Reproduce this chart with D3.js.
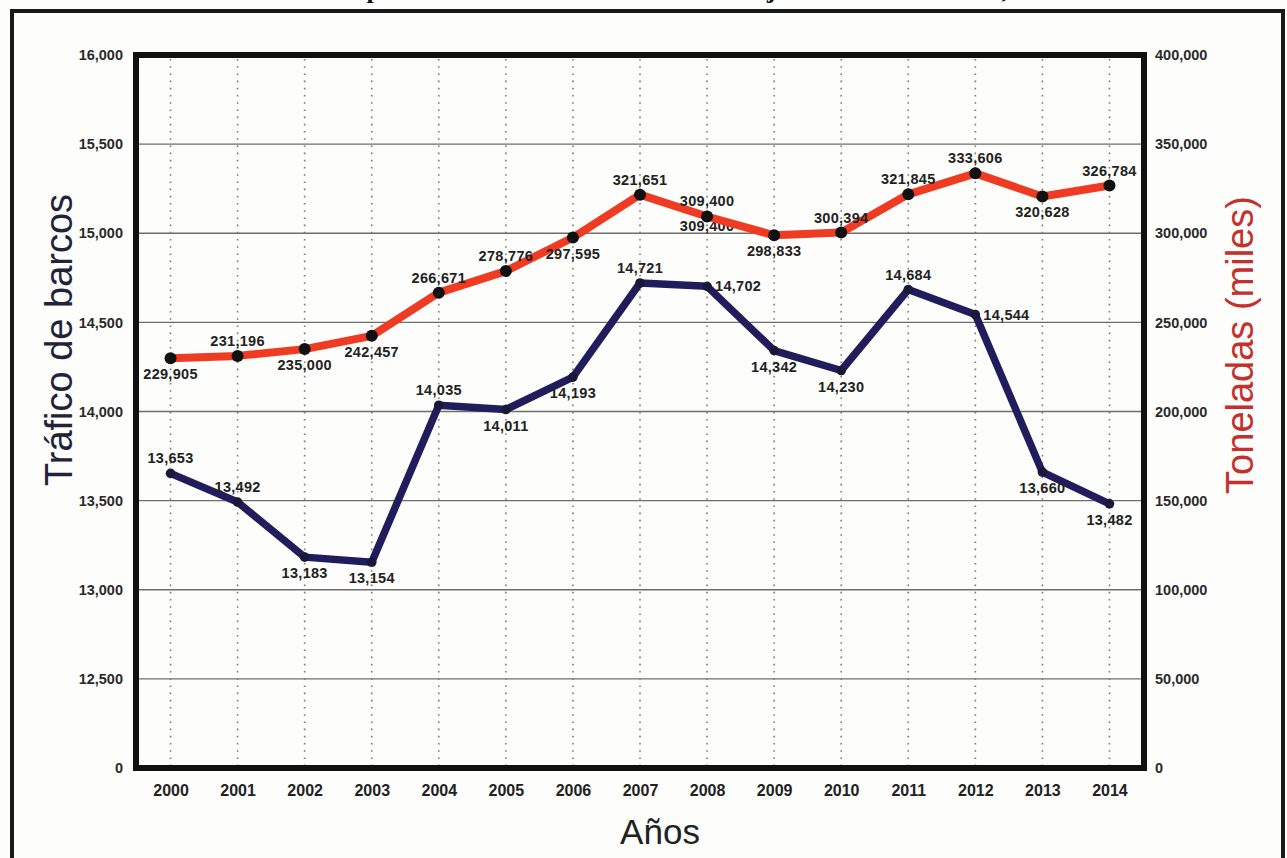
<!DOCTYPE html>
<html>
<head>
<meta charset="utf-8">
<script src="https://cdn.jsdelivr.net/npm/d3@7/dist/d3.min.js"></script>
<style>
  html, body { margin: 0; padding: 0; background: #fdfdfb; }
  svg { display: block; }
</style>
</head>
<body>
<svg id="chart" width="1287" height="858"></svg>
<script>
// Years on the horizontal axis
const years = ["2000","2001","2002","2003","2004","2005","2006","2007","2008","2009","2010","2011","2012","2013","2014"];
// Ship traffic (left axis)
const barcos = [13653, 13492, 13183, 13154, 14035, 14011, 14193, 14721, 14702, 14342, 14230, 14684, 14544, 13660, 13482];
// Tonnage in thousands (right axis)
const toneladas = [229905, 231196, 235000, 242457, 266671, 278776, 297595, 321651, 309400, 298833, 300394, 321845, 333606, 320628, 326784];
// Where each value label sits relative to its point
const barcosLabelPos = ["above","above","below","below","above","below","below","above","right","below","below","above","right","below","below"];
const toneladasLabelPos = ["below","above","below","below","above","above","below","above","above","below","above","above","above","below","above"];
// A second copy of the 2008 tonnage label, sitting under the line
const toneladasLabelExtra = [{ year: "2008", value: 309400, pos: "below" }];
// Left axis ticks (the bottom tick reads 0 on a broken axis)
const leftTicks = [12000, 12500, 13000, 13500, 14000, 14500, 15000, 15500, 16000];
const leftTickLabels = ["0","12,500","13,000","13,500","14,000","14,500","15,000","15,500","16,000"];
// Right axis ticks
const rightTicks = [0, 50000, 100000, 150000, 200000, 250000, 300000, 350000, 400000];
const rightTickLabels = ["0","50,000","100,000","150,000","200,000","250,000","300,000","350,000","400,000"];

const svg = d3.select("#chart");
const L = 137, R = 1143, T = 55, B = 768;
const SANS = "Liberation Sans, Arial, sans-serif";

const x = d3.scalePoint().domain(years).range([L, R]).padding(0.5);
const yL = d3.scaleLinear().domain([12000, 16000]).range([B, T]);
const yR = d3.scaleLinear().domain([0, 400000]).range([B, T]);

// Title (runs off the top edge of the page)
svg.append("text")
  .attr("x", 240).attr("y", -2)
  .attr("font-family", "Liberation Serif, serif")
  .attr("font-weight", "bold")
  .attr("font-size", 26)
  .attr("fill", "#111")
  .text("Tráfico del puerto de Altamira: barcos en manejo anual de toneladas, 2000-2014");

// Outer frame
svg.append("rect")
  .attr("x", 12).attr("y", 11).attr("width", 1271).attr("height", 900)
  .attr("fill", "none").attr("stroke", "#1a1a1a").attr("stroke-width", 4);

// Horizontal gridlines
svg.append("g").selectAll("line")
  .data(leftTicks.slice(1, -1))
  .join("line")
  .attr("x1", L).attr("x2", R)
  .attr("y1", d => yL(d)).attr("y2", d => yL(d))
  .attr("stroke", "#6e6e6e").attr("stroke-width", 1.3);

// Dotted vertical lines at each year
svg.append("g").selectAll("line")
  .data(years)
  .join("line")
  .attr("x1", d => x(d)).attr("x2", d => x(d))
  .attr("y1", T + 4).attr("y2", B)
  .attr("stroke", "#7a7a7a").attr("stroke-width", 1.6)
  .attr("stroke-dasharray", "1.6,5.6");

// Left axis
const leftAxis = d3.axisLeft(yL).tickValues(leftTicks).tickSize(0).tickPadding(14)
  .tickFormat((d, i) => leftTickLabels[i]);
const gL = svg.append("g").attr("transform", `translate(${L},0)`).call(leftAxis);
gL.select(".domain").remove();
gL.selectAll("text").attr("font-family", SANS)
  .attr("font-weight", "bold").attr("font-size", 14.5).attr("fill", "#2a2a2a");

// Right axis
const rightAxis = d3.axisRight(yR).tickValues(rightTicks).tickSize(0).tickPadding(12)
  .tickFormat((d, i) => rightTickLabels[i]);
const gR = svg.append("g").attr("transform", `translate(${R},0)`).call(rightAxis);
gR.select(".domain").remove();
gR.selectAll("text").attr("font-family", SANS)
  .attr("font-weight", "bold").attr("font-size", 14.5).attr("fill", "#2a2a2a");

// Bottom axis (years)
const bottomAxis = d3.axisBottom(x).tickSize(0).tickPadding(17);
const gB = svg.append("g").attr("transform", `translate(0,${B})`).call(bottomAxis);
gB.select(".domain").remove();
gB.selectAll("text").attr("font-family", SANS)
  .attr("font-weight", "bold").attr("font-size", 16).attr("fill", "#222");

// Plot frame
svg.append("rect")
  .attr("x", L - 1).attr("y", T).attr("width", R - L + 2).attr("height", B - T)
  .attr("fill", "none").attr("stroke", "#111").attr("stroke-width", 6);

// Value labels
const fmt = d3.format(",");
function labelX(year, pos) { return x(year) + (pos === "right" ? 8 : 0); }
function labelY(v, pos, scale) {
  return scale(v) + (pos === "above" ? -10 : pos === "below" ? 21 : 5);
}
function styleLabel(sel) {
  sel.attr("font-family", SANS).attr("font-weight", "bold")
    .attr("font-size", 14.5).attr("letter-spacing", 0.3).attr("fill", "#222");
}

// Duplicate 2008 label, partly hidden under the tonnage line
svg.append("g").selectAll("text").data(toneladasLabelExtra).join("text")
  .attr("x", d => labelX(d.year, d.pos)).attr("y", d => labelY(d.value, d.pos, yR) - 6)
  .attr("text-anchor", "middle")
  .call(styleLabel)
  .text(d => fmt(d.value));

// Ship traffic line
const lineB = d3.line().x((d, i) => x(years[i])).y(d => yL(d));
svg.append("path").datum(barcos)
  .attr("d", lineB).attr("fill", "none")
  .attr("stroke", "#211d5c").attr("stroke-width", 7.5).attr("stroke-linejoin", "round");
svg.append("g").selectAll("circle").data(barcos).join("circle")
  .attr("cx", (d, i) => x(years[i])).attr("cy", d => yL(d)).attr("r", 4.8)
  .attr("fill", "#1a1838");

// Tonnage line
const lineT = d3.line().x((d, i) => x(years[i])).y(d => yR(d));
svg.append("path").datum(toneladas)
  .attr("d", lineT).attr("fill", "none")
  .attr("stroke", "#ee3b22").attr("stroke-width", 8).attr("stroke-linejoin", "round");
svg.append("g").selectAll("circle").data(toneladas).join("circle")
  .attr("cx", (d, i) => x(years[i])).attr("cy", d => yR(d)).attr("r", 6)
  .attr("fill", "#111");

function placeLabels(values, pos, scale) {
  svg.append("g").selectAll("text").data(values).join("text")
    .attr("x", (d, i) => labelX(years[i], pos[i]))
    .attr("y", (d, i) => labelY(d, pos[i], scale))
    .attr("text-anchor", (d, i) => pos[i] === "right" ? "start" : "middle")
    .call(styleLabel)
    .text(d => fmt(d));
}
placeLabels(barcos, barcosLabelPos, yL);
placeLabels(toneladas, toneladasLabelPos, yR);

// Axis titles
svg.append("text")
  .attr("transform", "translate(72,340) rotate(-90)")
  .attr("text-anchor", "middle")
  .attr("font-family", SANS)
  .attr("font-size", 38).attr("fill", "#22223a")
  .text("Tráfico de barcos");
svg.append("text")
  .attr("transform", "translate(1253,345) rotate(-90)")
  .attr("text-anchor", "middle")
  .attr("font-family", SANS)
  .attr("font-size", 38).attr("fill", "#c4302b")
  .text("Toneladas (miles)");
svg.append("text")
  .attr("x", 660).attr("y", 844)
  .attr("text-anchor", "middle")
  .attr("font-family", SANS)
  .attr("font-size", 35).attr("fill", "#222")
  .text("Años");
</script>
</body>
</html>
